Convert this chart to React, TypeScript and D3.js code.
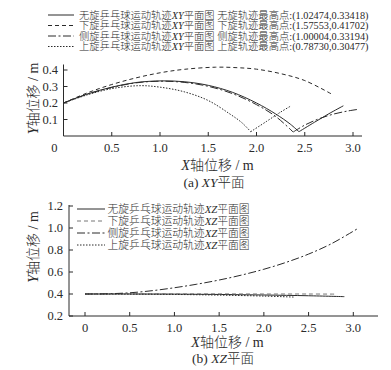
import React from "react";
import * as d3 from "d3";

// ---------- data ----------
const xyXTicks = [0, 0.5, 1.0, 1.5, 2.0, 2.5, 3.0];
const xyYTicks = [0.1, 0.2, 0.3, 0.4];
const xzXTicks = [0, 0.5, 1.0, 1.5, 2.0, 2.5, 3.0];
const xzYTicks = [0.2, 0.4, 0.6, 0.8, 1.0, 1.2];

const seriesNames = ["无旋", "下旋", "侧旋", "上旋"];
const peakPoints = ["(1.02474,0.33418)", "(1.57553,0.41702)", "(1.00004,0.33194)", "(0.78730,0.30477)"];

// XY plane: each trajectory = flight segment + post-bounce segment
const noSpinXY = [
  [[0, 0.2], [0.25, 0.255], [0.5, 0.296], [0.75, 0.324], [1.02, 0.334], [1.25, 0.329], [1.5, 0.307], [1.75, 0.265], [2.0, 0.2], [2.2, 0.133], [2.35, 0.072], [2.44, 0.026]],
  [[2.44, 0.026], [2.6, 0.083], [2.75, 0.135], [2.9, 0.183]],
];
const backSpinXY = [
  [[0, 0.2], [0.25, 0.262], [0.5, 0.312], [0.75, 0.352], [1.0, 0.383], [1.25, 0.404], [1.576, 0.417], [1.8, 0.414], [2.0, 0.405], [2.25, 0.378], [2.5, 0.336], [2.785, 0.252]],
];
const sideSpinXY = [
  [[0, 0.2], [0.25, 0.254], [0.5, 0.294], [0.75, 0.322], [1.0, 0.332], [1.25, 0.325], [1.5, 0.301], [1.75, 0.257], [2.0, 0.19], [2.2, 0.118], [2.38, 0.024]],
  [[2.38, 0.024], [2.5, 0.066], [2.65, 0.105], [2.8, 0.133], [2.95, 0.152], [3.06, 0.162]],
];
const topSpinXY = [
  [[0, 0.2], [0.25, 0.25], [0.5, 0.287], [0.787, 0.305], [1.0, 0.296], [1.25, 0.268], [1.5, 0.215], [1.72, 0.135], [1.85, 0.08], [1.94, 0.026]],
  [[1.94, 0.026], [2.1, 0.087], [2.25, 0.145], [2.35, 0.18]],
];

// XZ plane
const noSpinXZ = [[0, 0.4], [0.5, 0.4], [1.0, 0.399], [1.5, 0.396], [2.0, 0.391], [2.5, 0.384], [2.9, 0.376]];
const backSpinXZ = [[0, 0.4], [0.5, 0.401], [1.0, 0.401], [1.5, 0.401], [2.0, 0.4], [2.5, 0.4], [2.81, 0.399]];
const sideSpinXZ = [[0, 0.4], [0.25, 0.402], [0.5, 0.411], [0.75, 0.43], [1.0, 0.457], [1.25, 0.489], [1.5, 0.527], [1.75, 0.572], [2.0, 0.625], [2.25, 0.688], [2.5, 0.763], [2.75, 0.855], [3.06, 1.0]];
const topSpinXZ = [[0, 0.4], [0.5, 0.399], [1.0, 0.396], [1.5, 0.39], [2.0, 0.381], [2.34, 0.372]];

// ---------- styles ----------
const INK = "#2a2a2a";
const dashes = ["", "4,3", "8,2.5,2,2.5", "1.5,1.5"];
const SERIF = "'Liberation Serif', 'Times New Roman', 'Noto Sans CJK SC', serif";

type Pt = number[];

export default function App() {
  // top chart scales
  const x1 = d3.scaleLinear().domain([0, 3.0]).range([63.5, 353]);
  const y1 = d3.scaleLinear().domain([0, 0.4]).range([136, 70]);
  // bottom chart scales
  const x2 = d3.scaleLinear().domain([0, 3.0]).range([85, 353.3]);
  const y2 = d3.scaleLinear().domain([0.2, 1.2]).range([316, 206]);

  const line1 = d3.line<Pt>().x((d) => x1(d[0])).y((d) => y1(d[1])).curve(d3.curveCatmullRom.alpha(0.5));
  const line2 = d3.line<Pt>().x((d) => x2(d[0])).y((d) => y2(d[1])).curve(d3.curveCatmullRom.alpha(0.5));

  const xySeries = [noSpinXY, backSpinXY, sideSpinXY, topSpinXY];
  const xzSeries = [noSpinXZ, backSpinXZ, sideSpinXZ, topSpinXZ];
  const xzColors = [INK, "#777", INK, INK];

  const fmt = d3.format(".1f");

  const x1AxisEnd = 362;
  const y1AxisTop = 64.5;
  const x2AxisStart = 69;
  const x2AxisEnd = 378;
  const y2AxisTop = 205;

  return (
    <svg width={391} height={370} style={{ position: "absolute", left: 0, top: 0, background: "#fff" }} fontFamily={SERIF} fontWeight={300}>
      <rect width={391} height={370} fill="#fff" />

      {/* ===== Top legend ===== */}
      {seriesNames.map((n, i) => {
        const yy = 15 + i * 10.5;
        return (
          <g key={"l1" + i}>
            <line x1={48} x2={74} y1={yy} y2={yy} stroke={INK} strokeWidth={1} strokeDasharray={dashes[i]} />
            <text x={79} y={yy + 3.8} fontSize={10.3} fill={INK}>
              {n}乒乓球运动轨迹<tspan fontStyle="italic">XY</tspan>平面图 {n}轨迹最高点:{peakPoints[i]}
            </text>
          </g>
        );
      })}

      {/* ===== Top chart axes ===== */}
      <line x1={x1(0)} x2={x1AxisEnd} y1={y1(0)} y2={y1(0)} stroke={INK} strokeWidth={1} />
      <line x1={x1(0)} x2={x1(0)} y1={y1(0)} y2={y1AxisTop} stroke={INK} strokeWidth={1} />
      {xyXTicks.map((t) => (
        <g key={"xt1" + t}>
          {t > 0 && <line x1={x1(t)} x2={x1(t)} y1={y1(0)} y2={y1(0) - 4} stroke={INK} strokeWidth={1} />}
          <text x={t === 0 ? x1(t) - 6 : x1(t)} y={y1(0) + 15.5} fontSize={12.5} textAnchor={t === 0 ? "end" : "middle"} fill={INK}>
            {t === 0 ? "0" : fmt(t)}
          </text>
        </g>
      ))}
      {xyYTicks.map((t) => (
        <g key={"yt1" + t}>
          <line x1={x1(0)} x2={x1(0) + 4} y1={y1(t)} y2={y1(t)} stroke={INK} strokeWidth={1} />
          <text x={x1(0) - 5.5} y={y1(t) + 4.3} fontSize={12.5} textAnchor="end" fill={INK}>
            {fmt(t)}
          </text>
        </g>
      ))}
      <text transform="translate(38,98.5) rotate(-90)" fontSize={14} textAnchor="middle" fill={INK}>
        <tspan fontStyle="italic">Y</tspan>轴位移 / m
      </text>
      <text x={217.5} y={170} fontSize={14} textAnchor="middle" fill={INK}>
        <tspan fontStyle="italic">X</tspan>轴位移 / m
      </text>
      <text x={214} y={186.5} fontSize={13.5} textAnchor="middle" fill={INK}>
        (a) <tspan fontStyle="italic">XY</tspan>平面
      </text>

      {/* top curves */}
      {xySeries.map((segs, i) => (
        <g key={"c1" + i}>
          {segs.map((seg, j) => (
            <path key={j} d={line1(seg as Pt[]) || ""} fill="none" stroke={INK} strokeWidth={1} strokeDasharray={dashes[i]} />
          ))}
        </g>
      ))}

      {/* ===== Bottom chart axes ===== */}
      <line x1={x2AxisStart} x2={x2AxisEnd} y1={y2(0.2)} y2={y2(0.2)} stroke={INK} strokeWidth={1} />
      <line x1={x2AxisStart} x2={x2AxisStart} y1={y2(0.2)} y2={y2AxisTop} stroke={INK} strokeWidth={1} />
      {xzXTicks.map((t) => (
        <g key={"xt2" + t}>
          <line x1={x2(t)} x2={x2(t)} y1={y2(0.2)} y2={y2(0.2) - 4} stroke={INK} strokeWidth={1} />
          <text x={x2(t)} y={y2(0.2) + 15.5} fontSize={12.5} textAnchor="middle" fill={INK}>
            {t === 0 ? "0" : fmt(t)}
          </text>
        </g>
      ))}
      {xzYTicks.map((t) => (
        <g key={"yt2" + t}>
          <line x1={x2AxisStart} x2={x2AxisStart + 4} y1={y2(t)} y2={y2(t)} stroke={INK} strokeWidth={1} />
          <text x={x2AxisStart - 6} y={y2(t) + 4.3} fontSize={12.5} textAnchor="end" fill={INK}>
            {fmt(t)}
          </text>
        </g>
      ))}
      <text transform="translate(38,247) rotate(-90)" fontSize={14} textAnchor="middle" fill={INK}>
        <tspan fontStyle="italic">Y</tspan>轴位移 / m
      </text>
      <text x={227.5} y={346.5} fontSize={14} textAnchor="middle" fill={INK}>
        <tspan fontStyle="italic">X</tspan>轴位移 / m
      </text>
      <text x={223} y={363} fontSize={13.5} textAnchor="middle" fill={INK}>
        (b) <tspan fontStyle="italic">XZ</tspan>平面
      </text>

      {/* bottom legend */}
      {seriesNames.map((n, i) => {
        const yy = 209 + i * 12;
        return (
          <g key={"l2" + i}>
            <line x1={77} x2={105} y1={yy} y2={yy} stroke={xzColors[i]} strokeWidth={1} strokeDasharray={dashes[i]} />
            <text x={107.5} y={yy + 4} fontSize={10.8} fill={INK}>
              {n}乒乓球运动轨迹<tspan fontStyle="italic">XZ</tspan>平面图
            </text>
          </g>
        );
      })}

      {/* bottom curves */}
      {xzSeries.map((seg, i) => (
        <path key={"c2" + i} d={line2(seg as Pt[]) || ""} fill="none" stroke={xzColors[i]} strokeWidth={1} strokeDasharray={dashes[i]} />
      ))}
    </svg>
  );
}
